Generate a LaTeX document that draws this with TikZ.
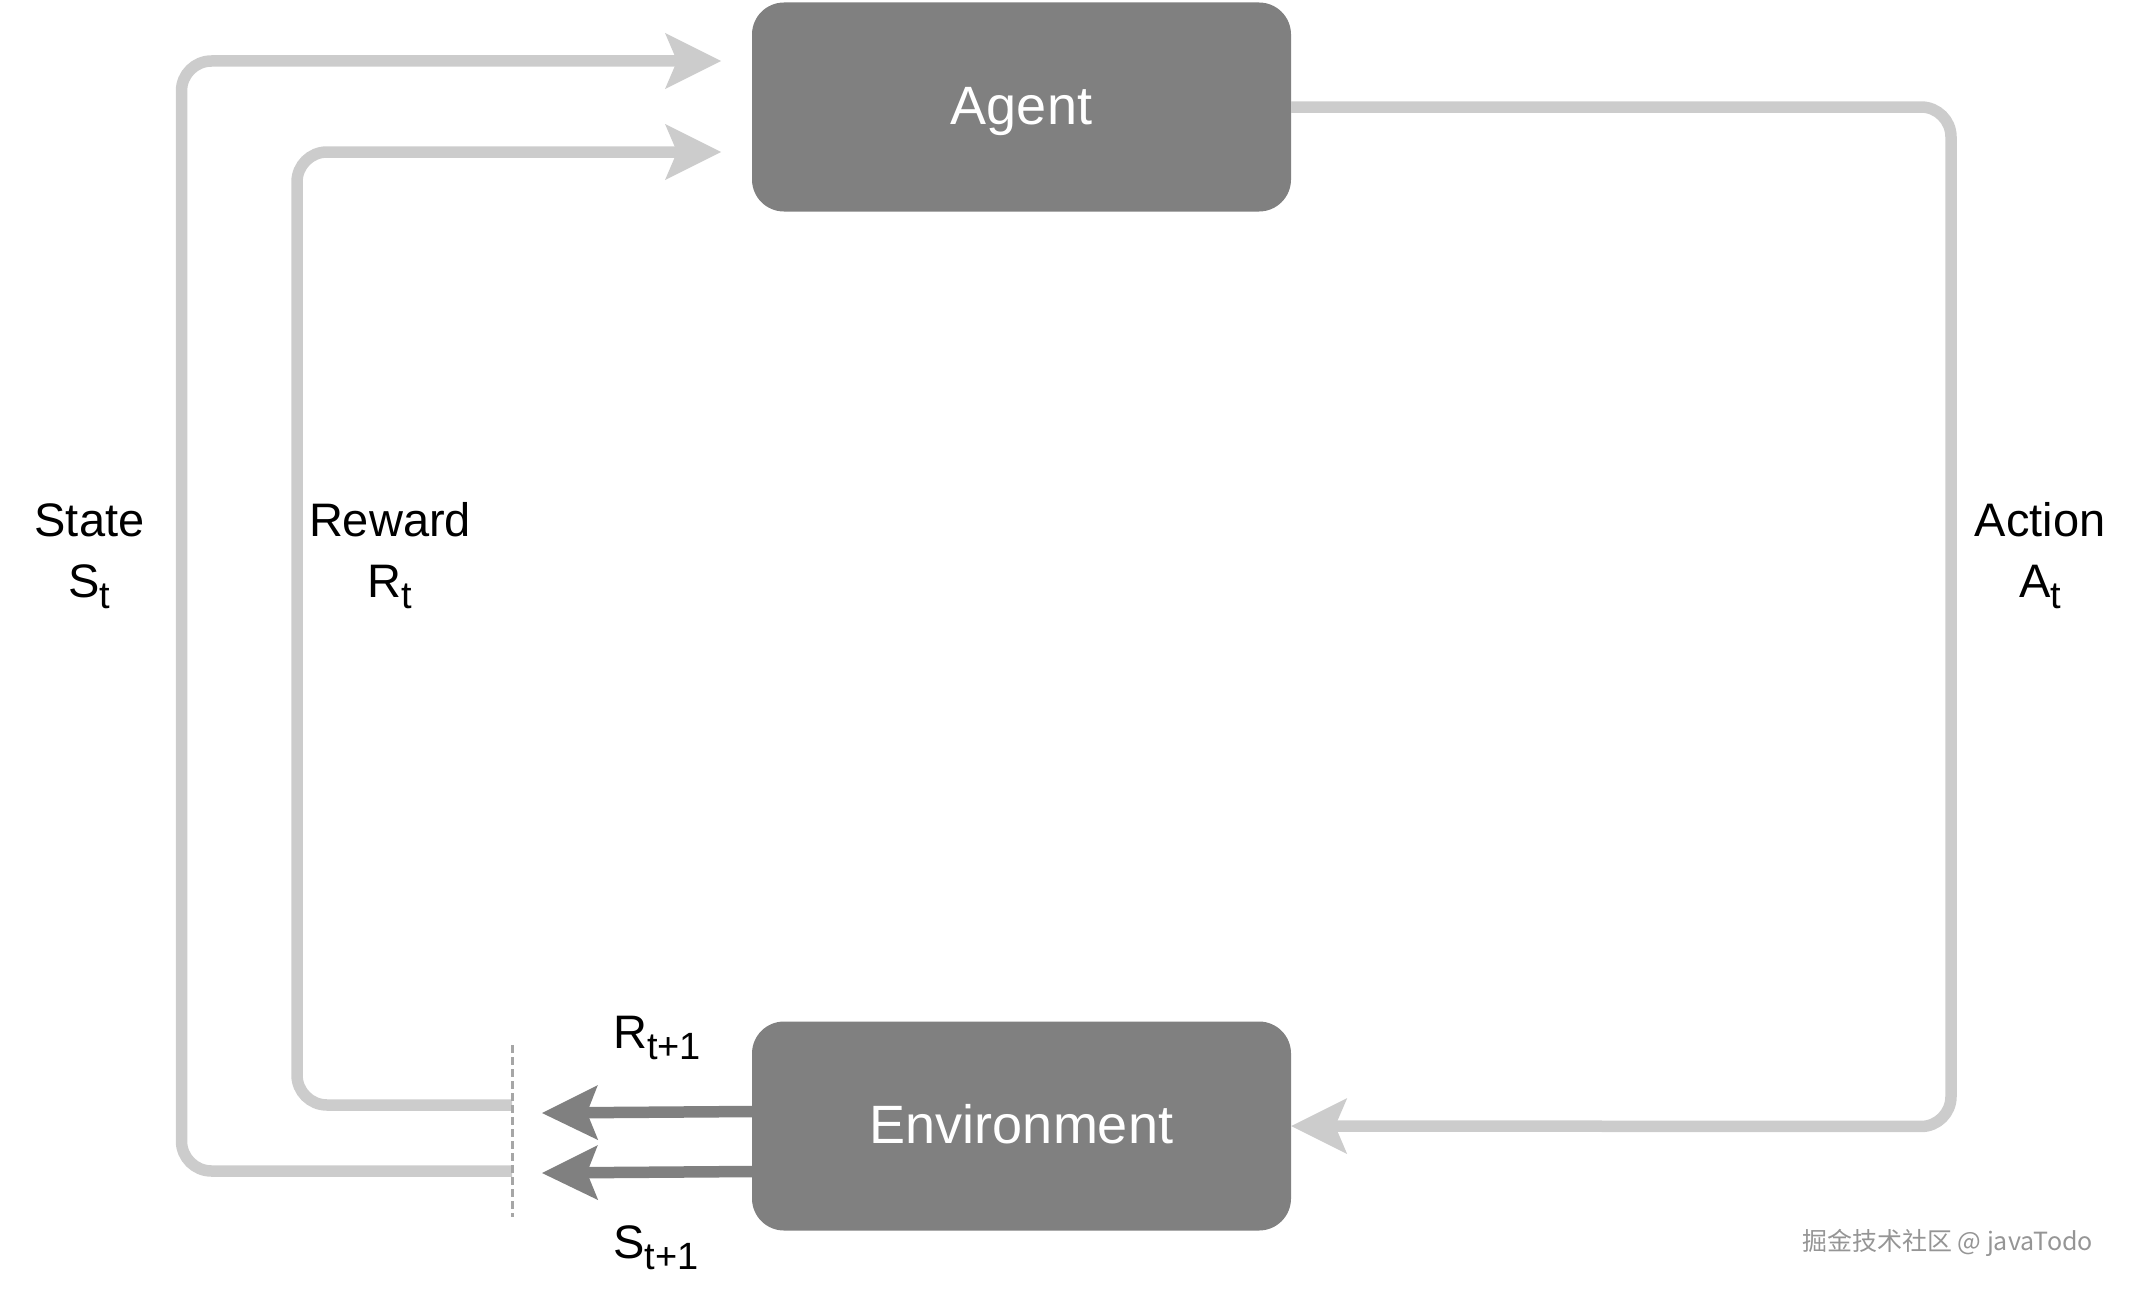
\documentclass[tikz,border=0pt]{standalone}
\usepackage{fontspec}
\setmainfont{Liberation Sans}
\newfontfamily\cjkfont{Noto Sans CJK SC}
\usetikzlibrary{arrows.meta}
\definecolor{lightline}{HTML}{CCCCCC}
\definecolor{boxfill}{HTML}{808080}
\definecolor{dashcol}{HTML}{A6A6A6}
\definecolor{wmark}{HTML}{959595}
\newcommand{\lsub}[1]{\raisebox{-11pt}{\fontsize{38}{38}\selectfont #1}}
\begin{document}
\begin{tikzpicture}[x=1pt,y=-1pt,
  box/.style={draw=none, fill=boxfill, rounded corners=32pt, minimum width=539pt, minimum height=209pt, inner sep=0pt, text=white, font=\fontsize{54}{60}\selectfont, text height=39pt, text depth=4pt},
  loopline/.style={draw=lightline, line width=11.5pt, rounded corners=30pt},
  lighttip/.style={-{Stealth[length=56pt,width=56pt,inset=12pt,line width=0pt]}},
  darkline/.style={draw=boxfill, line width=11.5pt, -{Stealth[length=56pt,width=55pt,inset=11pt,line width=0pt]}},
  lbl/.style={font=\fontsize{47}{61}\selectfont, inner sep=0pt},
  cutline/.style={draw=dashcol, line width=3pt, dash pattern=on 8pt off 4pt}
]
\useasboundingbox (0,0) rectangle (2130,1290);
\node[box] (agent) at (1021.5,107) {Agent};
\node[box] (env) at (1021.5,1126) {Environment};

\coordinate (stateIn) at (721,61);
\coordinate (rewardIn) at (721,152);
\coordinate (cutR) at (512,1105);
\coordinate (cutS) at (512,1171);
\coordinate (cutTop) at (512,1045);
\coordinate (cutBot) at (512,1217);
\coordinate (rOut) at (542,1113);
\coordinate (sOut) at (542,1173);

\draw[loopline, lighttip] (cutS) -- (181.5,1171) -- (181.5,61) -- (stateIn);
\draw[loopline, lighttip] (cutR) -- (297,1105) -- (297,152) -- (rewardIn);
\draw[loopline, lighttip] (agent.east) -- (1951,107) -- (1951,1126.5) -- (env.east);

\draw[cutline] (cutTop) -- (cutBot);

\draw[darkline] (env.west |- 0,1111.5) -- (rOut);
\draw[darkline] (env.west |- 0,1171.5) -- (sOut);

\node[lbl, anchor=base] (stateA) at (89.5,536) {State};
\node[lbl, anchor=base] (stateB) at (89.5,597) {S\lsub{t}};
\node[lbl, anchor=base] (rewardA) at (390,536) {Reward};
\node[lbl, anchor=base] (rewardB) at (390,597) {R\lsub{t}};
\node[lbl, anchor=base] (actionA) at (2040,536) {Action};
\node[lbl, anchor=base] (actionB) at (2040,597) {A\lsub{t}};
\node[lbl, anchor=base west] (rnext) at (613,1048) {R\lsub{t+1}};
\node[lbl, anchor=base west] (snext) at (613,1258) {S\lsub{t+1}};

\node[font=\cjkfont\fontsize{25}{25}\selectfont, text=wmark, anchor=west, inner sep=0pt] (wm) at (1802,1243) {掘金技术社区 @ javaTodo};
\end{tikzpicture}
\end{document}
